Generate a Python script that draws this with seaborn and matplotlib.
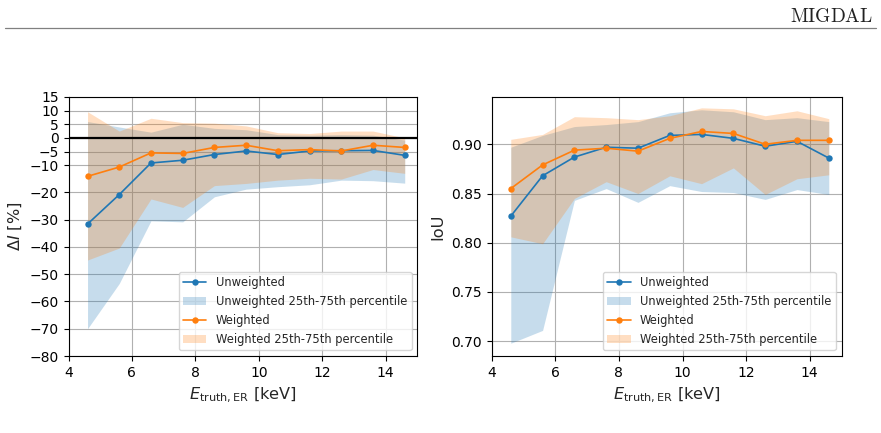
import numpy as np
import matplotlib
matplotlib.use("Agg")
import matplotlib.pyplot as plt
from matplotlib.lines import Line2D
import seaborn as sns

# ---------------- data ----------------
energy = [4.6, 5.6, 6.6, 7.6, 8.6, 9.6, 10.6, 11.6, 12.6, 13.6, 14.6]

dI_unw = [-31.6, -20.8, -9.2, -8.2, -6.1, -4.8, -6.1, -4.8, -4.7, -4.6, -6.4]
dI_unw_lo = [-70.0, -53.4, -30.4, -30.8, -21.6, -18.8, -17.9, -17.2, -15.5, -15.7, -16.6]
dI_unw_hi = [6.0, 4.0, 2.1, 5.0, 3.5, 3.0, 1.2, 1.0, 1.2, 1.0, -0.8]
dI_w = [-14.1, -10.7, -5.5, -5.7, -3.5, -2.7, -4.7, -4.3, -4.8, -2.7, -3.5]
dI_w_lo = [-44.8, -40.4, -22.4, -25.5, -17.5, -16.7, -15.5, -14.8, -15.1, -11.6, -13.0]
dI_w_hi = [9.6, 2.5, 7.2, 5.6, 5.4, 4.4, 1.9, 1.6, 2.5, 2.5, 0.0]

iou_unw = [0.827, 0.868, 0.887, 0.897, 0.896, 0.909, 0.910, 0.906, 0.898, 0.903, 0.886]
iou_unw_lo = [0.698, 0.711, 0.843, 0.855, 0.841, 0.858, 0.852, 0.851, 0.844, 0.854, 0.849]
iou_unw_hi = [0.897, 0.909, 0.918, 0.920, 0.923, 0.932, 0.935, 0.933, 0.925, 0.927, 0.923]
iou_w = [0.855, 0.879, 0.894, 0.896, 0.893, 0.906, 0.913, 0.911, 0.900, 0.904, 0.904]
iou_w_lo = [0.806, 0.799, 0.845, 0.862, 0.850, 0.868, 0.860, 0.876, 0.849, 0.865, 0.869]
iou_w_hi = [0.905, 0.910, 0.928, 0.927, 0.925, 0.929, 0.937, 0.936, 0.929, 0.934, 0.926]

left_yticks = [-80, -70, -60, -50, -40, -30, -20, -10, -5, 0, 5, 10, 15]
right_yticks = [0.70, 0.75, 0.80, 0.85, 0.90]
xticks = [4, 6, 8, 10, 12, 14]

series_names = ["Unweighted", "Unweighted 25th-75th percentile",
                "Weighted", "Weighted 25th-75th percentile"]
header_text = "MIGDAL"

# ---------------- style ----------------
sns.set_style("ticks")
plt.rcParams["font.family"] = ["DejaVu Sans"]
plt.rcParams["mathtext.fontset"] = "dejavusans"
TICK_FS = 10.0
LABEL_FS = 11.6
LEG_FS = 8.3
plt.rcParams.update({
    "font.size": TICK_FS, "axes.labelsize": LABEL_FS, "xtick.labelsize": TICK_FS,
    "ytick.labelsize": TICK_FS, "legend.fontsize": LEG_FS,
    "axes.edgecolor": "black", "axes.linewidth": 0.8,
    "xtick.color": "black", "ytick.color": "black",
    "xtick.major.size": 3.5, "ytick.major.size": 3.5,
    "xtick.major.width": 0.8, "ytick.major.width": 0.8,
})

BLUE = "#1f77b4"
ORANGE = "#ff7f0e"

fig = plt.figure(figsize=(8.81, 4.33), dpi=100)
W, H = 881, 433


def px_axes(l, t, r, b):
    return fig.add_axes([l / W, 1 - b / H, (r - l) / W, (b - t) / H])


ax1 = px_axes(68.5, 97, 417.4, 356)
ax2 = px_axes(491.7, 97, 841.5, 356)


def draw(ax, y_u, lo_u, hi_u, y_w, lo_w, hi_w):
    sns.lineplot(x=energy, y=y_u, ax=ax, color=BLUE, marker="o", markersize=4.6,
                 markeredgecolor=BLUE, markeredgewidth=0, linewidth=1.2,
                 label=series_names[0], legend=False)
    ax.fill_between(energy, lo_u, hi_u, color=BLUE, alpha=0.25, linewidth=0,
                    label=series_names[1])
    sns.lineplot(x=energy, y=y_w, ax=ax, color=ORANGE, marker="o", markersize=4.6,
                 markeredgecolor=ORANGE, markeredgewidth=0, linewidth=1.2,
                 label=series_names[2], legend=False)
    ax.fill_between(energy, lo_w, hi_w, color=ORANGE, alpha=0.25, linewidth=0,
                    label=series_names[3])
    ax.set_xlim(4, 15)
    ax.set_xticks(xticks)
    ax.grid(True, color="#b0b0b0", linewidth=0.8)
    ax.set_axisbelow(True)
    ax.set_xlabel(r"$E_{\mathrm{truth,ER}}$ [keV]")
    handles, labels = ax.get_legend_handles_labels()
    order = [labels.index(n) for n in series_names]
    ax.legend([handles[i] for i in order], [labels[i] for i in order],
              loc="lower right", framealpha=0.8, edgecolor="#cccccc",
              fancybox=True)


draw(ax1, dI_unw, dI_unw_lo, dI_unw_hi, dI_w, dI_w_lo, dI_w_hi)
ax1.axhline(0, color="black", linewidth=1.6, zorder=1.5)
ax1.set_ylim(-80, 15)
ax1.set_yticks(left_yticks)
ax1.set_ylabel(r"$\Delta I$ [%]")

draw(ax2, iou_unw, iou_unw_lo, iou_unw_hi, iou_w, iou_w_lo, iou_w_hi)
ax2.set_ylim(0.685, 0.948)
ax2.set_yticks(right_yticks)
ax2.yaxis.set_major_formatter(matplotlib.ticker.FormatStrFormatter("%.2f"))
ax2.set_ylabel("IoU")

# page header
fig.text(873 / W, 1 - 21.5 / H, r"$\mathrm{" + header_text + "}$", ha="right",
         va="baseline", fontsize=14.0, math_fontfamily="cm", color="#222222")
fig.add_artist(Line2D([5 / W, 876 / W], [1 - 28.3 / H, 1 - 28.3 / H],
                      transform=fig.transFigure, color="#808080", linewidth=0.9))

fig.savefig("out.png", dpi=100)
